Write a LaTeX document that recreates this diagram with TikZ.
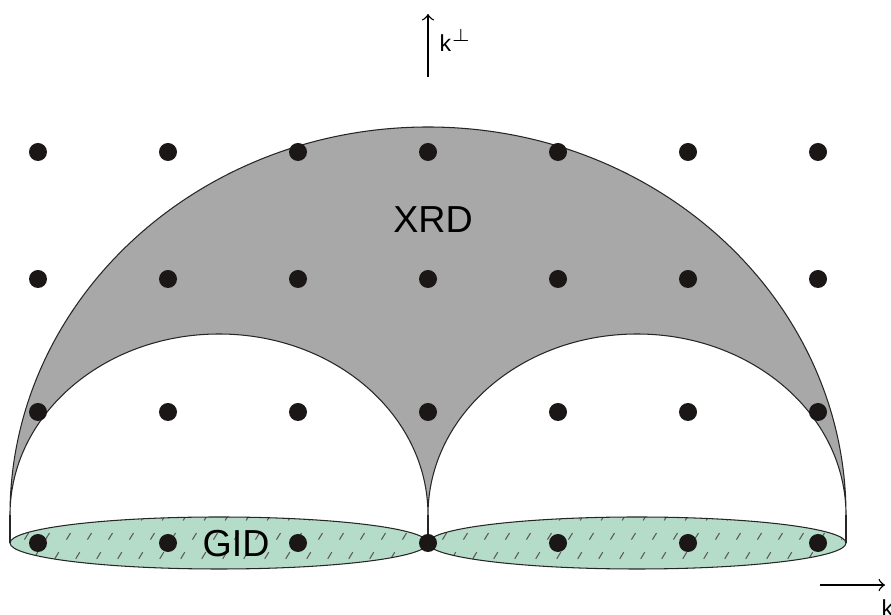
\documentclass[tikz,border=0pt]{standalone}
\usepackage{fontspec}
\setmainfont{Liberation Sans}
\usepackage{xcolor}
\usepackage{tikz}

\definecolor{xrdgrey}{RGB}{168,168,168}
\definecolor{gidgreen}{RGB}{181,220,200}
\definecolor{dotblack}{RGB}{28,23,23}

\begin{document}
\begin{tikzpicture}[
    x=0.1mm,
    y=-0.1mm,
    every node/.style={inner sep=0pt},
    big/.style={font=\fontsize{10.7}{12}\selectfont},
    small/.style={font=\fontsize{6.6}{8}\selectfont},
    dot/.style={circle, fill=dotblack, minimum size=1.8mm},
    edge/.style={draw=black!85, line width=0.3pt},
    hatch/.style={draw=black!65, line width=0.3pt, dash pattern=on 2.2pt off 4.2pt},
    axis/.style={->, line width=0.4pt}
]
\useasboundingbox (0,0) rectangle (891,615);

% XRD region
\filldraw[edge, fill=xrdgrey] (10,515)
  arc[start angle=180, end angle=360, x radius=418, y radius=388]
  arc[start angle=0, end angle=-180, x radius=209, y radius=181]
  arc[start angle=0, end angle=-180, x radius=209, y radius=181] -- cycle;

% GID region
\foreach \cx in {219,637} {
  \fill[gidgreen] (\cx,543) ellipse[x radius=209, y radius=26];
  \begin{scope}
    \clip (\cx,543) ellipse[x radius=209, y radius=26];
    \foreach \i in {-260,-239,...,230}
      \draw[hatch] (\cx+\i,578) -- ++(55,-90);
  \end{scope}
  \draw[edge] (\cx,543) ellipse[x radius=209, y radius=26];
}

\foreach \x in {10,428,846}
  \draw[edge] (\x,515) -- (\x,543);

% lattice
\foreach \y [count=\r] in {152,279,412,543}
  \foreach \c in {0,...,6}
    \node[dot] (d\r\c) at (38+130*\c,\y) {};

\node[big] (xrd) at (433,220) {XRD};
\node[big] (gid) at (236,544) {GID};

% axes
\coordinate (kperpa) at (428,77);
\coordinate (kperpb) at (428,14);
\draw[axis] (kperpa) -- (kperpb);
\node[small, anchor=base west] (kperp) at (439,52) {k$^{\perp}$};

\coordinate (kpara) at (820,585);
\coordinate (kparb) at (885,585);
\draw[axis] (kpara) -- (kparb);
\node[small, anchor=north west] (kpar) at (881,599) {k};
\end{tikzpicture}
\end{document}
